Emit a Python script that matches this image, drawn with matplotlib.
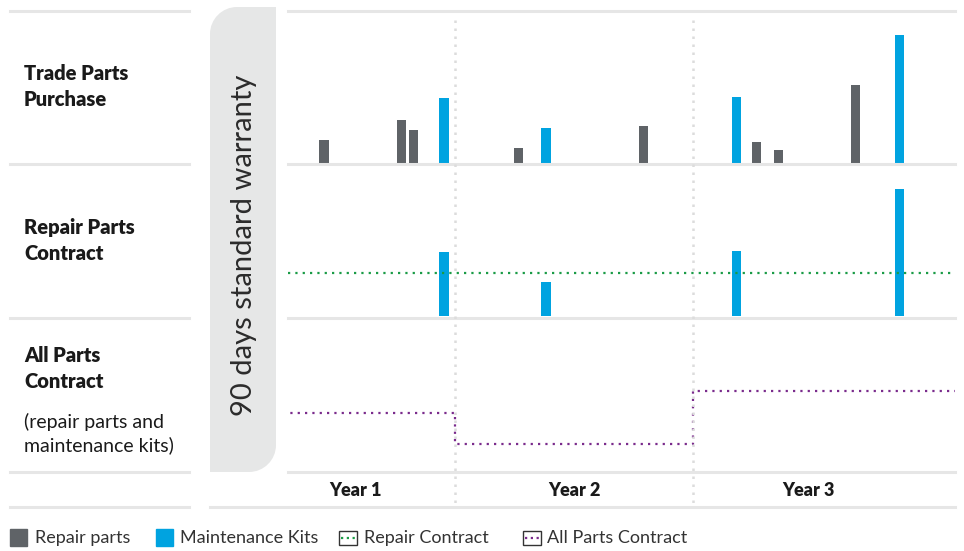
import numpy as np
import matplotlib
matplotlib.use("Agg")
import matplotlib.pyplot as plt
from matplotlib.lines import Line2D
from matplotlib.patches import Rectangle, PathPatch
from matplotlib.path import Path
import matplotlib.transforms as mtransforms

plt.rcParams['font.family'] = ['Lato', 'DejaVu Sans']

# data (x in months, heights in arbitrary cost units)
repair_x = [5.4, 9.3, 9.9, 15.2, 21.5, 27.2, 28.3, 32.2]
repair_h = [2.3, 4.3, 3.3, 1.5, 3.7, 2.1, 1.3, 7.8]
maint_x = [11.45, 16.6, 26.2, 34.4]
maint_h = [6.5, 3.5, 6.6, 12.8]

contract_x = [11.45, 16.6, 26.2, 34.4]
contract_h = [6.4, 3.4, 6.5, 12.7]
repair_contract_level = 4.3

allparts_x = [0, 12, 24, 40]
allparts_y = [5.9, 2.8, 8.1, 8.1]

years = ['Year 1', 'Year 2', 'Year 3']
year_pos = [7.0, 18.0, 29.8]
year_bounds = [12, 24]

row_titles = ['Trade Parts\nPurchase', 'Repair Parts\nContract', 'All Parts\nContract']
row_note = '(repair parts and\nmaintenance kits)'

GRAY = '#5f6367'
BLUE = '#00a3e0'
GREEN = '#1a9b46'
PURPLE = '#7a2b8c'
SEP = '#e6e6e6'

W, H = 964, 551
fig = plt.figure(figsize=(W / 100, H / 100), dpi=100)


def fx(x):
    return x / W


def fy(y):
    return 1 - y / H


def add_panel(top, bottom):
    ax = fig.add_axes([fx(288), fy(bottom), fx(955) - fx(288), fy(top) - fy(bottom)])
    ax.set_xlim(3.58, 37.21)
    ax.set_ylim(0, 15.2)
    ax.axis('off')
    return ax


ax1 = add_panel(11, 163)
ax2 = add_panel(164, 316)
ax3 = add_panel(318, 472)

bw = 0.48
ax1.bar(repair_x, repair_h, width=bw, color=GRAY, zorder=3)
ax1.bar(maint_x, maint_h, width=bw, color=BLUE, zorder=3)
ax2.bar(contract_x, contract_h, width=bw, color=BLUE, zorder=3)
ax2.axhline(repair_contract_level, color=GREEN, lw=1.6, ls=(0, (1, 2.3)), zorder=4)
ax3.step(allparts_x, allparts_y, where='post', color=PURPLE, lw=1.6, ls=(0, (1, 2.3)), zorder=4)
ax3.set_ylim(0, 15.4)

# warranty block (top-left and bottom-right rounded)
x0, x1, y0, y1, r = fx(210), fx(276), fy(472), fy(7), 27
rx, ry = r / W, r / H
k = 0.5523
verts = [
    (x0, y0), (x1 - rx, y0),
    (x1 - rx + k * rx, y0), (x1, y0 + ry - k * ry), (x1, y0 + ry),
    (x1, y1),
    (x0 + rx, y1),
    (x0 + rx - k * rx, y1), (x0, y1 - ry + k * ry), (x0, y1 - ry),
    (x0, y0),
]
codes = [Path.MOVETO, Path.LINETO, Path.CURVE4, Path.CURVE4, Path.CURVE4,
         Path.LINETO, Path.LINETO, Path.CURVE4, Path.CURVE4, Path.CURVE4, Path.CLOSEPOLY]
fig.add_artist(PathPatch(Path(verts, codes), facecolor='#e6e7e7', edgecolor='none',
                         transform=fig.transFigure, zorder=0))
fig.text(fx(244), fy(245), '90 days standard warranty', rotation=90, ha='center', va='center',
         fontsize=21, fontweight='normal', color='#2b2b2b', zorder=5)

# separators
for y in [11, 164, 318, 472]:
    fig.add_artist(Line2D([fx(10), fx(189)], [fy(y), fy(y)], color=SEP, lw=2.2, zorder=1))
    fig.add_artist(Line2D([fx(288), fx(955)], [fy(y), fy(y)], color=SEP, lw=2.2, zorder=1))
fig.add_artist(Line2D([fx(10), fx(189)], [fy(507), fy(507)], color=SEP, lw=2.2, zorder=1))
fig.add_artist(Line2D([fx(210), fx(955)], [fy(507), fy(507)], color=SEP, lw=2.2, zorder=1))

# year boundaries and labels
tr = mtransforms.blended_transform_factory(ax1.transData, fig.transFigure)
for b in year_bounds:
    fig.add_artist(Line2D([b, b], [fy(20), fy(506)], transform=tr, color='#dcdcdc',
                          lw=1.8, ls=(0, (1, 2.2)), zorder=1))
for name, xp in zip(years, year_pos):
    fig.text(xp, fy(490), name, transform=tr, ha='center', va='center',
             fontsize=13, fontweight='heavy', color='#1a1a1a')

# row labels
for title, yc in zip(row_titles, [86.5, 240.5, 368.5]):
    fig.text(fx(24), fy(yc), title, ha='left', va='center', fontsize=14.5,
             fontweight='heavy', color='#1a1a1a', linespacing=1.45)
fig.text(fx(24), fy(433.5), row_note, ha='left', va='center', fontsize=14,
         color='#1a1a1a', linespacing=1.4)

# legend
ly = 538
fig.add_artist(Rectangle((fx(10), fy(546)), fx(17) - fx(0), fy(529) - fy(546), color=GRAY,
                         transform=fig.transFigure))
fig.text(fx(35), fy(ly), 'Repair parts', va='center', fontsize=13, color='#333333')
fig.add_artist(Rectangle((fx(156), fy(546)), fx(17) - fx(0), fy(529) - fy(546), color=BLUE,
                         transform=fig.transFigure))
fig.text(fx(180), fy(ly), 'Maintenance Kits', va='center', fontsize=13, color='#333333')
for bx, col, lab, tx in [(339, GREEN, 'Repair Contract', 364), (523, PURPLE, 'All Parts Contract', 547)]:
    fig.add_artist(Rectangle((fx(bx), fy(545)), fx(18) - fx(0), fy(531) - fy(545), facecolor='white',
                             edgecolor='#333333', lw=1, transform=fig.transFigure))
    fig.add_artist(Line2D([fx(bx + 2), fx(bx + 17)], [fy(538), fy(538)], color=col, lw=1.6,
                          ls=(0, (1, 1.6)), transform=fig.transFigure))
    fig.text(fx(tx), fy(ly), lab, va='center', fontsize=13, color='#333333')

fig.savefig('out.png', dpi=100)
